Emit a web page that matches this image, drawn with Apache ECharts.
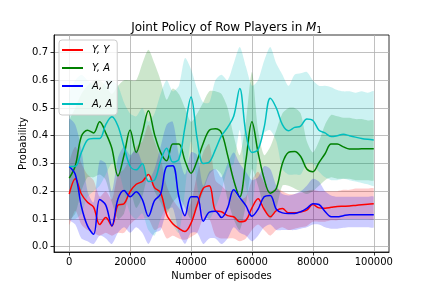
<!DOCTYPE html>
<html>
<head>
<meta charset="utf-8">
<script src="https://cdn.jsdelivr.net/npm/echarts@6/dist/echarts.min.js"></script>
<style>html,body{margin:0;padding:0;background:#fff}#c{width:432px;height:288px}</style>
</head>
<body>
<div id="c"></div>
<script>
const episodes = [0,2000,4000,6000,8000,10000,12000,14000,16000,18000,20000,22000,24000,26000,28000,30000,32000,34000,36000,38000,40000,42000,44000,46000,48000,50000,52000,54000,56000,58000,60000,62000,64000,66000,68000,70000,72000,74000,76000,78000,80000,82000,84000,86000,88000,90000,92000,94000,96000,98000,100000];
const xTicks = [0,20000,40000,60000,80000,100000];
const yTicks = [0,0.1,0.2,0.3,0.4,0.5,0.6,0.7];
const seriesNames = ['Y, Y','Y, A','A, Y','A, A'];

// mean curves
const yyMean = [0.19,0.245,0.19,0.16,0.143,0.08,0.105,0.075,0.15,0.155,0.199,0.225,0.235,0.26,0.213,0.195,0.115,0.083,0.066,0.055,0.085,0.15,0.21,0.22,0.13,0.126,0.112,0.108,0.09,0.095,0.14,0.173,0.135,0.108,0.13,0.138,0.122,0.122,0.126,0.132,0.152,0.14,0.139,0.142,0.145,0.146,0.147,0.149,0.151,0.153,0.155];
const yaMean = [0.247,0.292,0.398,0.42,0.41,0.45,0.41,0.355,0.255,0.33,0.421,0.34,0.41,0.49,0.405,0.34,0.31,0.37,0.37,0.31,0.265,0.31,0.373,0.42,0.425,0.41,0.33,0.24,0.18,0.31,0.45,0.34,0.245,0.193,0.21,0.3,0.34,0.343,0.325,0.28,0.27,0.303,0.335,0.37,0.37,0.36,0.352,0.352,0.353,0.353,0.353];
const ayMean = [0.289,0.26,0.145,0.075,0.045,0.17,0.15,0.075,0.172,0.203,0.18,0.198,0.17,0.11,0.166,0.19,0.289,0.292,0.18,0.112,0.18,0.18,0.092,0.125,0.128,0.105,0.14,0.205,0.177,0.148,0.11,0.135,0.18,0.185,0.135,0.122,0.12,0.12,0.126,0.138,0.155,0.152,0.127,0.108,0.108,0.112,0.115,0.115,0.115,0.115,0.115];
const aaMean = [0.289,0.29,0.34,0.385,0.39,0.39,0.44,0.468,0.435,0.36,0.29,0.277,0.3,0.235,0.24,0.31,0.355,0.305,0.315,0.43,0.54,0.39,0.3,0.305,0.35,0.4,0.43,0.47,0.57,0.41,0.34,0.35,0.43,0.535,0.5,0.44,0.418,0.43,0.435,0.46,0.455,0.42,0.41,0.397,0.4,0.405,0.4,0.395,0.39,0.387,0.385];

// shaded bands (lower / upper)
const yyLow = [0.08,0.13,0.08,0.06,0.05,0.04,0.05,0.04,0.05,0.05,0.08,0.1,0.1,0.1,0.06,0.07,0.03,0.04,0.03,0.025,0.035,0.05,0.1,0.1,0.04,0.03,0.03,0.03,0.02,0.03,0.06,0.08,0.06,0.04,0.06,0.07,0.06,0.065,0.07,0.075,0.09,0.09,0.09,0.095,0.095,0.1,0.1,0.1,0.1,0.1,0.1];
const yyHigh = [0.3,0.36,0.3,0.26,0.24,0.18,0.2,0.17,0.26,0.28,0.32,0.36,0.38,0.44,0.38,0.32,0.22,0.17,0.14,0.12,0.16,0.26,0.34,0.37,0.24,0.22,0.2,0.2,0.17,0.18,0.24,0.27,0.23,0.2,0.21,0.2,0.19,0.19,0.195,0.2,0.205,0.2,0.2,0.2,0.2,0.205,0.205,0.21,0.21,0.21,0.21];
const yaLow = [0.1,0.12,0.2,0.25,0.25,0.26,0.24,0.16,0.1,0.12,0.2,0.14,0.18,0.26,0.2,0.16,0.12,0.16,0.18,0.14,0.1,0.14,0.2,0.26,0.28,0.26,0.17,0.1,0.06,0.15,0.28,0.22,0.14,0.1,0.14,0.22,0.22,0.21,0.2,0.19,0.2,0.22,0.24,0.25,0.245,0.245,0.245,0.24,0.24,0.24,0.24];
const yaHigh = [0.45,0.5,0.55,0.58,0.6,0.6,0.58,0.55,0.58,0.6,0.6,0.6,0.66,0.71,0.66,0.6,0.53,0.57,0.55,0.5,0.45,0.48,0.52,0.56,0.56,0.55,0.5,0.4,0.33,0.45,0.63,0.42,0.33,0.36,0.42,0.48,0.5,0.5,0.48,0.38,0.34,0.38,0.44,0.475,0.47,0.465,0.465,0.46,0.46,0.455,0.455];
const ayLow = [0.1,0.08,0.03,0.02,0.01,0.04,0.03,0.01,0.05,0.07,0.05,0.07,0.05,0.01,0.05,0.06,0.13,0.14,0.05,0.01,0.05,0.05,0.01,0.03,0.03,0.01,0.03,0.07,0.05,0.04,0.02,0.04,0.07,0.08,0.06,0.06,0.06,0.06,0.065,0.07,0.08,0.08,0.07,0.065,0.065,0.068,0.07,0.07,0.07,0.07,0.07];
const ayHigh = [0.46,0.44,0.35,0.2,0.16,0.31,0.3,0.2,0.32,0.36,0.33,0.35,0.3,0.24,0.28,0.36,0.44,0.45,0.33,0.26,0.34,0.33,0.22,0.27,0.28,0.25,0.3,0.34,0.3,0.27,0.24,0.25,0.29,0.28,0.22,0.19,0.185,0.19,0.2,0.22,0.245,0.235,0.2,0.185,0.18,0.18,0.18,0.18,0.18,0.18,0.18];
const aaLow = [0.1,0.1,0.12,0.18,0.2,0.22,0.26,0.3,0.28,0.2,0.12,0.1,0.12,0.06,0.04,0.1,0.14,0.08,0.05,0.2,0.38,0.22,0.12,0.1,0.14,0.2,0.28,0.3,0.42,0.22,0.14,0.33,0.41,0.42,0.38,0.28,0.26,0.26,0.26,0.3,0.3,0.27,0.25,0.24,0.24,0.245,0.24,0.235,0.23,0.225,0.22];
const aaHigh = [0.55,0.6,0.62,0.6,0.58,0.56,0.6,0.6,0.58,0.52,0.48,0.47,0.5,0.45,0.48,0.55,0.6,0.56,0.58,0.68,0.64,0.57,0.52,0.52,0.6,0.62,0.6,0.66,0.72,0.65,0.58,0.6,0.67,0.72,0.66,0.62,0.58,0.62,0.625,0.63,0.6,0.58,0.58,0.575,0.565,0.56,0.56,0.555,0.56,0.555,0.56];

const colors = ['#ff0000','#008000','#0000ff','#00bfbf'];
const means = [yyMean, yaMean, ayMean, aaMean];
const lows = [yyLow, yaLow, ayLow, aaLow];
const highs = [yyHigh, yaHigh, ayHigh, aaHigh];

const series = [];
// shaded bands drawn as polygons through the axis scales
series.push({
  type: 'custom', name: 'bands', z: 1, silent: true,
  coordinateSystem: 'cartesian2d',
  data: [[0], [1], [2], [3]],
  encode: {x: 0, y: 0},
  clip: true,
  renderItem: function (params, api) {
    const k = api.value(0);
    const pts = [];
    for (let i = 0; i < episodes.length; i++) pts.push(api.coord([episodes[i], highs[k][i]]));
    for (let i = episodes.length - 1; i >= 0; i--) pts.push(api.coord([episodes[i], lows[k][i]]));
    const p0 = api.coord([episodes[0], 0.763]);
    const p1 = api.coord([episodes[episodes.length - 1], -0.019]);
    return {
      type: 'polygon',
      shape: {points: pts, smooth: 0.25, smoothConstraint: [[p0[0], p0[1]], [p1[0], p1[1]]]},
      style: {fill: colors[k], opacity: 0.2, stroke: null}
    };
  }
});
means.forEach((m, k) => {
  series.push({
    type: 'line', name: seriesNames[k], z: 3, symbol: 'none', smooth: 0.35,
    color: colors[k], lineStyle: {color: colors[k], width: 1.5},
    data: episodes.map((e, i) => [e, m[i]])
  });
});

const font = 'DejaVu Sans';
const chart = echarts.init(document.getElementById('c'), null, {renderer: 'canvas'});
chart.setOption({
  animation: false,
  backgroundColor: '#fff',
  title: {
    text: '{n|Joint Policy of Row Players in }{m|M}{s|1}',
    left: 221.5, top: 15, textAlign: 'center',
    textStyle: {
      fontWeight: 'normal',
      rich: {
        n: {fontFamily: font, fontSize: 12, fontWeight: 'normal', color: '#000'},
        m: {fontFamily: font, fontSize: 12, fontStyle: 'italic', fontWeight: 'normal', color: '#000'},
        s: {fontFamily: font, fontSize: 8.5, fontWeight: 'normal', color: '#000', padding: [6, 0, 0, 0]}
      }
    }
  },
  legend: {
    data: seriesNames.map(n => ({name: n, icon: 'rect'})),
    orient: 'vertical', left: 59, top: 40,
    padding: [4, 5, 5, 3], itemWidth: 21, itemHeight: 2, itemGap: 6,
    backgroundColor: 'rgba(255,255,255,0.8)', borderColor: '#cccccc', borderWidth: 1, borderRadius: 3,
    textStyle: {fontFamily: font, fontSize: 10, fontStyle: 'italic', color: '#000', lineHeight: 12, padding: [0, 0, 0, 4]}
  },
  grid: {left: 54, right: 43, top: 35, bottom: 36, show: true, borderColor: '#000', borderWidth: 0.8, backgroundColor: 'transparent'},
  xAxis: {
    type: 'value', min: -5000, max: 105000,
    name: 'Number of episodes', nameLocation: 'middle', nameGap: 19, nameMoveOverlap: false,
    nameTextStyle: {fontFamily: font, fontSize: 10, color: '#000'},
    axisLine: {show: true, onZero: false, lineStyle: {color: '#000', width: 0.8}},
    axisTick: {show: true, length: 3.5, customValues: xTicks, lineStyle: {color: '#000', width: 0.8}},
    axisLabel: {customValues: xTicks, formatter: v => String(v), margin: 5, fontFamily: font, fontSize: 10, color: '#000'},
    splitLine: {show: true, lineStyle: {color: '#b0b0b0', width: 0.8}}
  },
  yAxis: {
    type: 'value', min: -0.019, max: 0.763,
    name: 'Probability', nameLocation: 'middle', nameGap: 26, nameMoveOverlap: false,
    nameTextStyle: {fontFamily: font, fontSize: 10, color: '#000'},
    axisLine: {show: true, onZero: false, lineStyle: {color: '#000', width: 0.8}},
    axisTick: {show: true, length: 3.5, customValues: yTicks, lineStyle: {color: '#000', width: 0.8}},
    axisLabel: {customValues: yTicks, formatter: v => v.toFixed(1), margin: 6, fontFamily: font, fontSize: 10, color: '#000'},
    splitLine: {show: true, lineStyle: {color: '#b0b0b0', width: 0.8}}
  },
  series: series
});
</script>
</body>
</html>
